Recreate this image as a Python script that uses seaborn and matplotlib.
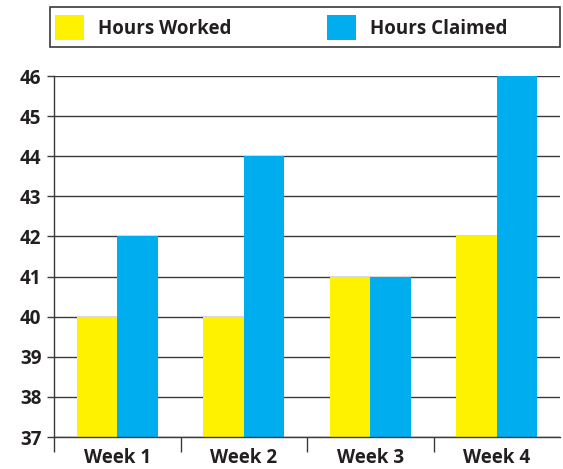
import pandas as pd
import matplotlib.pyplot as plt
import matplotlib.patches as mpatches
import seaborn as sns
import numpy as np

weeks = ["Week 1", "Week 2", "Week 3", "Week 4"]
hours_worked = [40, 40, 41, 42]
hours_claimed = [42, 44, 41, 46]
series = ["Hours Worked", "Hours Claimed"]
colors = ["#FFF200", "#00AEEF"]
text_col = "#231F20"
line_col = "#3a3a3a"

sns.set_theme(style="white")
plt.rcParams['font.family'] = ['Open Sans', 'DejaVu Sans']
plt.rcParams['font.weight'] = 'bold'

df = pd.DataFrame({
    "week": weeks * 2,
    "hours": hours_worked + hours_claimed,
    "series": [series[0]] * 4 + [series[1]] * 4,
})

W, H = 563, 469
fig = plt.figure(figsize=(W / 100, H / 100), dpi=100)
ax = fig.add_axes([54 / W, 1 - 437 / H, (560 - 54) / W, (437 - 76) / H])

sns.barplot(data=df, x="week", y="hours", hue="series", palette=colors,
            width=0.64, saturation=1, linewidth=0, edgecolor="none",
            ax=ax, legend=False)

ax.set_ylim(37, 46)
ax.set_xlim(-0.5, 3.5)
ax.set_yticks(range(37, 47))
ax.yaxis.grid(True, color=line_col, linewidth=1.0)
ax.set_axisbelow(True)
ax.set_xlabel("")
ax.set_ylabel("")

for s in ["top", "right"]:
    ax.spines[s].set_visible(False)
for s in ["left", "bottom"]:
    ax.spines[s].set_color(line_col)
    ax.spines[s].set_linewidth(1.0)

ax.tick_params(axis="y", direction="out", length=5, width=1.0, color=line_col,
               labelsize=13.5, labelcolor=text_col, pad=4, left=True)
ax.tick_params(axis="x", which="major", length=0, labelsize=13.5,
               labelcolor=text_col, pad=8)
ax.set_xticks([-0.5, 0.5, 1.5, 2.5], minor=True)
ax.tick_params(axis="x", which="minor", direction="out", length=11,
               width=1.0, color=line_col, bottom=True)
for lbl in ax.get_xticklabels() + ax.get_yticklabels():
    lbl.set_fontweight("bold")

# legend frame drawn separately so it spans the full width
fig.patches.append(mpatches.Rectangle((50 / W, 1 - 47 / H), 510 / W, 40 / H,
                                      transform=fig.transFigure, fill=False,
                                      edgecolor=line_col, linewidth=1.2))
handles = [mpatches.Patch(facecolor=c, edgecolor="none", label=l)
           for c, l in zip(colors, series)]
leg = fig.legend(handles=handles, ncol=2, loc="center left",
                 bbox_to_anchor=(55 / W, 1 - 27.5 / H),
                 frameon=False, prop={"size": 13.5, "weight": "bold"},
                 handlelength=1.55, handleheight=1.75, handletextpad=0.75,
                 columnspacing=5.1, borderpad=0, borderaxespad=0)
for t in leg.get_texts():
    t.set_color(text_col)

plt.savefig("out.png", dpi=100)
plt.close()
